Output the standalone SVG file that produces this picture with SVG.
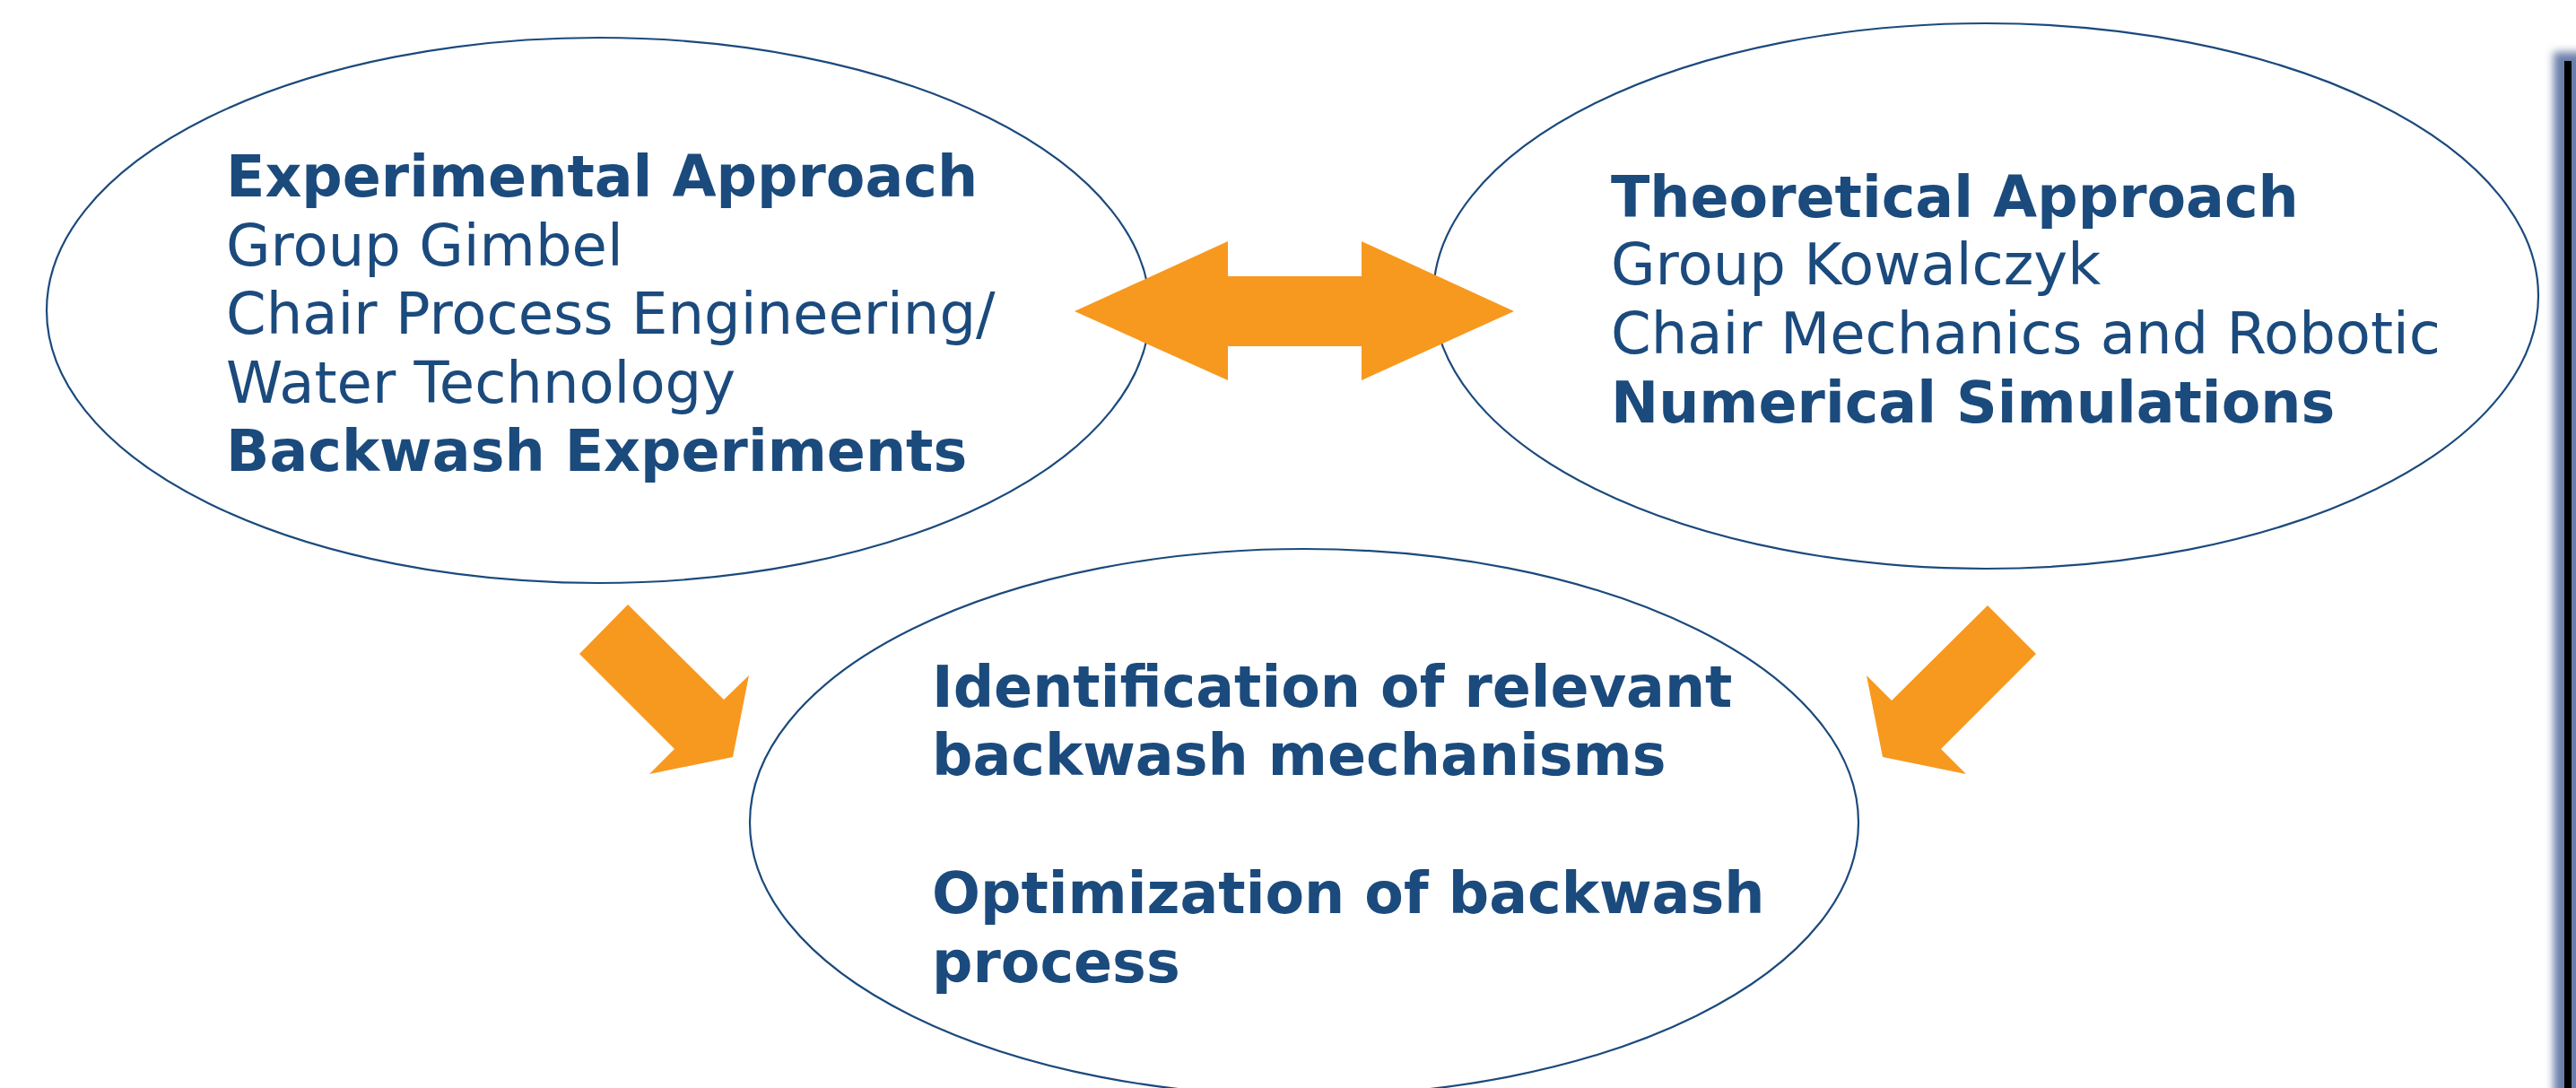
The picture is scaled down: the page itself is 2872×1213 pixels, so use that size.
<svg xmlns="http://www.w3.org/2000/svg" width="2872" height="1213" viewBox="0 0 2872 1213">
<defs>
<style>
.ell{fill:#ffffff;stroke:#1B4A7D;stroke-width:2.2}
.arr{fill:#F7991F;stroke:none}
.t{font-family:"DejaVu Sans","Verdana",sans-serif;font-size:64px;fill:#1B4A7D}
.b{font-weight:bold;font-size:63.5px}
</style>
<filter id="blur" x="-2" y="-0.1" width="5" height="1.2"><feGaussianBlur stdDeviation="5"/></filter>
</defs>
<rect width="2872" height="1213" fill="#ffffff"/>
<g id="edge">
<rect x="2847" y="58" width="40" height="1180" fill="#6A7FA9" filter="url(#blur)"/>
<rect x="2859" y="68" width="8" height="1145" fill="#000000"/>
</g>
<g id="node-experimental">
<ellipse class="ell" cx="667" cy="346" rx="615" ry="304"/>
<text class="t b" x="252" y="219">Experimental Approach</text>
<text class="t" x="252" y="296">Group Gimbel</text>
<text class="t" x="252" y="372">Chair Process Engineering/</text>
<text class="t" x="252" y="449">Water Technology</text>
<text class="t b" x="252" y="525">Backwash Experiments</text>
</g>
<g id="node-theoretical">
<ellipse class="ell" cx="2214" cy="330" rx="616" ry="304"/>
<text class="t b" x="1796" y="242">Theoretical Approach</text>
<text class="t" x="1796" y="317">Group Kowalczyk</text>
<text class="t" x="1796" y="394">Chair Mechanics and Robotic</text>
<text class="t b" x="1796" y="471">Numerical Simulations</text>
</g>
<g id="node-result">
<ellipse class="ell" cx="1454" cy="917" rx="618" ry="305"/>
<text class="t b" x="1039" y="788">Identification of relevant</text>
<text class="t b" x="1039" y="864">backwash mechanisms</text>
<text class="t b" x="1039" y="1018">Optimization of backwash</text>
<text class="t b" x="1039" y="1095">process</text>
</g>
<g id="connectors">
<polygon class="arr" points="1198,347 1369,269 1369,308 1518,308 1518,269 1688,347 1518,424 1518,386 1369,386 1369,424"/>
<polygon class="arr" points="700,674 807,780 835,753 817,844 724,863 752,835 646,729"/>
<polygon class="arr" points="2216,675 2109,781 2081,753 2099,844 2192,863 2164,835 2270,729"/>
</g>
</svg>
